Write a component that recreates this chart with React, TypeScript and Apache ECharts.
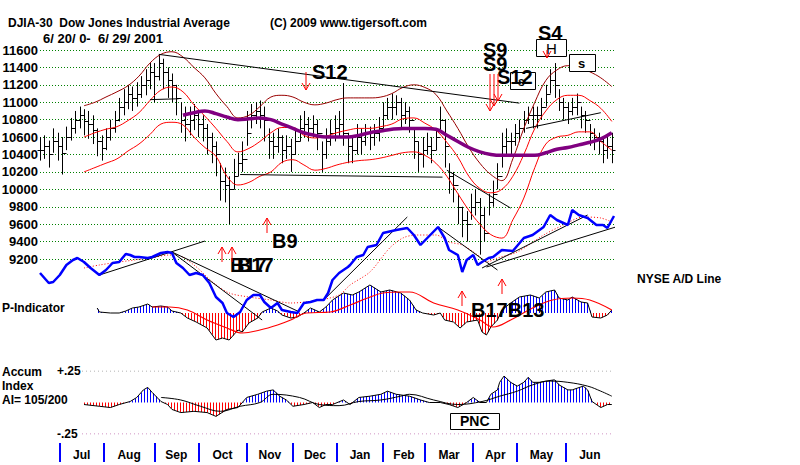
import React, { useEffect, useRef } from "react";
import * as echarts from "echarts";

// ---------- axis / calendar ----------
const monthNames = ["Jul", "Aug", "Sep", "Oct", "Nov", "Dec", "Jan", "Feb", "Mar", "Apr", "May", "Jun"];
const monthStarts = [9, 29, 52, 72, 94, 115, 135, 156, 175, 197, 217, 239]; // trading-day index of 1st day
const lastDay = 260;
const xMax = 261;

// ---------- DJIA bars (every 2nd trading day) ----------
const barClose = [
  10450, 10500, 10400, 10550, 10500, 10420, 10600, 10700, 10800, 10850,
  10780, 10750, 10680, 10550, 10480, 10600, 10700, 10800, 10950, 11000,
  11100, 11050, 11100, 11200, 11250, 11350, 11300, 11450, 11350, 11250,
  11200, 11050, 10800, 10750, 10800, 10850, 10750, 10700, 10600, 10500,
  10400, 10100, 10050, 10000, 10150, 10300, 10350, 10650, 10850, 10900,
  10850, 10800, 10550, 10500, 10600, 10450, 10500, 10400, 10550, 10700,
  10750, 10700, 10750, 10650, 10400, 10550, 10650, 10700, 10750, 10650,
  10500, 10450, 10600, 10550, 10650, 10600, 10650, 10700, 10850, 10950,
  10950, 11000, 10850, 10900, 10800, 10550, 10400, 10450, 10500, 10450,
  10600, 10800, 10500, 10150, 10050, 9800, 9650, 9600, 9800, 9850,
  9700, 9500, 9850, 9950, 10150, 10500, 10550, 10550, 10650, 10700,
  10800, 10850, 10850, 10850, 10950, 11100, 11250, 11200, 11000, 10950,
  10900, 10950, 11000, 10850, 10800, 10650, 10600, 10550, 10450, 10500,
  10450,
];
const barHigh = [
  10600, 10620, 10560, 10700, 10650, 10600, 10720, 10820, 10900, 10950,
  10920, 10900, 10850, 10700, 10620, 10700, 10800, 10900, 11050, 11150,
  11200, 11180, 11230, 11300, 11380, 11450, 11450, 11550, 11500, 11400,
  11330, 11200, 11000, 10950, 10950, 10980, 10900, 10850, 10750, 10650,
  10550, 10300, 10250, 10150, 10350, 10420, 10550, 10900, 10980, 11000,
  11020, 10950, 10700, 10650, 10700, 10620, 10620, 10580, 10700, 10850,
  10900, 10830, 10850, 10800, 10550, 10700, 10800, 10850, 10900, 11220,
  10650, 10600, 10750, 10700, 10750, 10720, 10750, 10830, 11000, 11050,
  11100, 11080, 11050, 11000, 10950, 10700, 10550, 10600, 10650, 10600,
  10700, 10950, 10800, 10300, 10200, 9950, 9800, 9750, 9950, 10000,
  9900, 9800, 9950, 10100, 10300, 10650, 10700, 10650, 10750, 10800,
  10900, 10950, 10950, 10950, 11050, 11200, 11380, 11450, 11150, 11050,
  11000, 11050, 11100, 10950, 10900, 10750, 10700, 10650, 10600, 10600,
  10650,
];
const barLow = [
  10330, 10350, 10250, 10420, 10330, 10170, 10450, 10560, 10640, 10700,
  10620, 10580, 10520, 10380, 10330, 10450, 10560, 10650, 10780, 10850,
  10920, 10900, 10950, 11050, 11080, 11150, 11000, 11250, 11150, 11050,
  11000, 10850, 10650, 10550, 10620, 10680, 10600, 10550, 10400, 10300,
  10150, 9870, 9850, 9600, 10000, 10150, 10200, 10500, 10700, 10750,
  10700, 10550, 10350, 10350, 10420, 10300, 10350, 10200, 10400, 10550,
  10600, 10550, 10600, 10450, 10200, 10350, 10500, 10550, 10600, 10500,
  10300, 10300, 10400, 10400, 10500, 10450, 10500, 10550, 10700, 10800,
  10800, 10850, 10700, 10750, 10650, 10350, 10200, 10250, 10400, 10300,
  10450, 10650, 10250, 9950, 9850, 9600, 9450, 9400, 9650, 9700,
  9250, 9400, 9700, 9800, 10000, 10250, 10400, 10400, 10500, 10550,
  10650, 10750, 10700, 10700, 10800, 10950, 11100, 11050, 10900, 10800,
  10750, 10850, 10850, 10700, 10650, 10500, 10450, 10400, 10300, 10350,
  10300,
];
const barStep = 2;

// ---------- bands and moving average (weekly readings) ----------
const bandDays = [
  20, 25, 30, 35, 40, 45, 50, 55, 60, 65, 70, 75, 80, 85, 90, 95, 100, 105, 110, 115,
  120, 125, 130, 135, 140, 145, 150, 155, 160, 165, 170, 175, 180, 185, 190, 195, 200, 205, 210, 215,
  220, 225, 230, 235, 240, 245, 250, 255, 260,
];
const redUpper = [
  10600, 10650, 10690, 10720, 10790, 10880, 11020, 11140, 11175, 11120, 10970, 10840, 10700, 10550, 10430, 10470, 10550, 10650, 10710, 10710,
  10620, 10590, 10610, 10650, 10680, 10700, 10700, 10720, 10750, 10810, 10820, 10760, 10680, 10540, 10370, 10150, 10010, 9960, 10000, 10150,
  10400, 10700, 10900, 11030, 11080, 11080, 11020, 10930, 10780,
];
const redLower = [
  10200, 10250, 10300, 10350, 10440, 10520, 10630, 10750, 10770, 10740, 10600, 10480, 10380, 10150, 10050, 10080, 10150, 10200, 10310, 10340,
  10280, 10220, 10240, 10280, 10310, 10330, 10340, 10360, 10390, 10420, 10430, 10390, 10300, 10150, 9950, 9760, 9600, 9480, 9440, 9650,
  9900, 10250, 10520, 10600, 10620, 10660, 10660, 10550, 10450,
];
const maroonUpper = [
  10960, 11000, 11060, 11120, 11190, 11300, 11450, 11550, 11580, 11520, 11400, 11280, 11100, 10950, 10820, 10850, 10950, 11060, 11080, 11060,
  11000, 10970, 10990, 11030, 11050, 11050, 11050, 11060, 11100, 11170, 11200, 11170, 11090, 10900, 10700, 10480, 10300, 10170, 10100, 10350,
  10700, 11000, 11250, 11370, 11420, 11400, 11350, 11280, 11180,
];
const maDays = [
  65, 70, 75, 80, 85, 90, 95, 100, 105, 110, 115, 120, 125, 130, 135, 140, 145, 150, 155, 160,
  165, 170, 175, 180, 185, 190, 195, 200, 205, 210, 215, 220, 225, 230, 235, 240, 245, 250, 255, 260,
];
const ma50 = [
  10850, 10880, 10900, 10870, 10830, 10800, 10810, 10820, 10800, 10750, 10700, 10650, 10620, 10600, 10600, 10600, 10620, 10650, 10670, 10690,
  10700, 10700, 10700, 10690, 10620, 10550, 10480, 10430, 10400, 10390, 10390, 10390, 10390, 10420, 10460, 10480, 10510, 10540, 10580, 10650,
];

// ---------- NYSE A/D line (arbitrary units) ----------
const adDays = [
  0, 4, 6, 9, 12, 15, 17, 20, 23, 27, 30, 33, 36, 39, 41, 43, 45, 49, 51, 55,
  58, 60, 62, 65, 68, 71, 74, 77, 80, 83, 85, 88, 91, 94, 97, 100, 102, 105, 108, 110,
  114, 117, 120, 123, 126, 129, 131, 133, 136, 140, 141, 144, 147, 149, 153, 156, 158, 162, 167, 170,
  173, 177, 181, 184, 186, 190, 192, 194, 197, 199, 201, 204, 206, 210, 215, 220, 224, 229, 232, 235,
  240, 242, 245, 249, 253, 256, 258, 261,
];
const adLine = [
  27, 17, 18, 25, 35, 40, 42, 38, 32, 25, 30, 37, 38, 46, 45, 43, 43, 42, 43, 47,
  48, 47, 37, 32, 25, 27, 25, 17, 3, -3, -13, -17, -12, 0, 5, 5, -2, -8, -3, -10,
  -12, -13, -3, -2, 0, 0, 7, 20, 27, 33, 35, 43, 45, 53, 55, 67, 68, 70, 72, 65,
  55, 64, 73, 62, 50, 45, 28, 40, 45, 35, 38, 42, 43, 50, 49, 62, 65, 73, 85, 80,
  75, 90, 85, 82, 75, 75, 72, 84,
];
const adMaDays = [20, 27, 36, 50, 59, 62, 70, 79, 86, 95, 105, 114, 127, 136, 141, 150, 159, 165, 171, 180, 186, 192, 199, 203, 208, 217, 229, 238, 247, 255, 260];
const adMa = [32, 35, 38, 42, 45, 45, 35, 17, 7, 3, 0, -3, 0, 5, 15, 28, 52, 62, 65, 65, 58, 55, 45, 38, 42, 48, 65, 75, 83, 82, 78];

// ---------- P-Indicator ----------
const pDays = [
  26, 27, 32, 36, 39, 42, 45, 49, 51, 55, 58, 60, 64, 67, 71, 76, 80, 83, 86, 90,
  92, 95, 99, 101, 105, 108, 110, 114, 117, 120, 123, 127, 130, 133, 138, 142, 145, 150, 155, 159,
  164, 168, 171, 174, 179, 182, 184, 188, 191, 194, 199, 201, 203, 205, 208, 210, 214, 218, 223, 227,
  230, 234, 236, 240, 242, 246, 249, 251, 255, 258, 260,
];
const pInd = [
  5, 1, 0, 0, 2, 5, 6, 9, 6, 7, 6, 2, 0, -5, -9, -15, -27, -25, -27, -17,
  -19, -10, -5, 1, 5, 2, -2, -5, -4, 0, 5, 1, 6, 13, 20, 18, 21, 28, 21, 23,
  20, 13, 3, 0, -2, 0, -7, -9, -15, -9, -7, -19, -22, -14, -7, 3, 10, 16, 18, 15,
  21, 23, 15, 13, 16, 11, 10, -4, -5, -2, 3,
];
const pMaDays = [51, 59, 67, 76, 85, 92, 100, 108, 114, 121, 132, 141, 149, 156, 164, 168, 179, 190, 200, 206, 214, 224, 233, 242, 250, 260];
const pMa = [6, 6, 3, -7, -15, -20, -17, -12, -7, 0, 1, 8, 15, 20, 21, 21, 10, 3, -7, -14, -7, 5, 13, 15, 13, 3];

// ---------- Accumulation Index ----------
const accDays = [
  20, 27, 32, 36, 41, 44, 47, 49, 51, 55, 58, 60, 64, 70, 76, 80, 85, 90, 94, 99,
  103, 106, 109, 112, 115, 120, 124, 127, 130, 133, 138, 141, 145, 150, 155, 158, 162, 168, 173, 177,
  182, 186, 190, 194, 197, 200, 203, 205, 208, 209, 211, 214, 217, 220, 222, 224, 227, 230, 234, 236,
  240, 242, 247, 249, 251, 255, 258, 260,
];
const accum = [
  -0.016, -0.03, -0.04, -0.016, 0.008, 0.04, 0.1, 0.12, 0.08, 0.008, -0.016, -0.055, -0.08, -0.07, -0.08, -0.11, -0.055, -0.04, 0.04, 0.065,
  0.09, 0.1, 0.05, 0.02, -0.03, -0.016, 0, -0.04, -0.016, -0.016, 0.02, -0.016, 0.04, 0.05, 0.065, 0.09, 0.065, 0.05, 0.02, 0,
  0, -0.016, -0.04, 0, 0.04, 0, 0, 0.065, 0.1, 0.16, 0.21, 0.16, 0.13, 0.16, 0.2, 0.16, 0.16, 0.17, 0.18, 0.14,
  0.1, 0.1, 0.13, 0.1, 0.008, -0.04, -0.016, -0.016,
];
const accMaDays = [55, 64, 73, 82, 91, 100, 106, 118, 127, 136, 145, 155, 164, 168, 179, 190, 201, 209, 217, 224, 232, 240, 249, 255, 260];
const accMa = [0.04, 0.02, -0.03, -0.07, -0.03, 0, 0.065, 0.04, -0.016, -0.025, 0.008, 0.02, 0.05, 0.065, 0.02, -0.016, 0.008, 0.05, 0.09, 0.14, 0.17, 0.16, 0.13, 0.09, 0.05];
const accLevels = [0.25, -0.25];

// ---------- trendlines (day, value) ----------
const priceTrendlines = [
  [[54, 11550], [218, 10990]],
  [[91, 10170], [183, 10140]],
  [[50, 11030], [63, 11040]],
  [[185, 10220], [214, 9785]],
  [[221, 10700], [255, 10880]],
];
const adTrendlines = [
  [[27, 25], [75, 59]],
  [[60, 48], [118, -12]],
  [[60, 48], [101, -20]],
  [[129, 0], [167, 83]],
  [[181, 73], [208, 30]],
  [[201, 32], [249, 85]],
  [[203, 33], [275, 82]],
];

// ---------- helpers ----------
const FONT = '"Liberation Sans", Arial, Helvetica, sans-serif';
const pairs = (xs: number[], ys: number[]) => xs.map((x, k) => [x, ys[k]]);

function txt(text: string, x: number, y: number, size: number, weight = "bold") {
  return {
    type: "text",
    x,
    y,
    z: 100,
    style: {
      text,
      font: `${weight} ${size}px ${FONT}`,
      fill: "#000",
      align: "left",
      verticalAlign: "middle",
      textAlign: "left",
      textVerticalAlign: "middle",
    },
  };
}
function box(x: number, y: number, w: number, h: number) {
  return { type: "rect", z: 99, shape: { x: x + 0.5, y: y + 0.5, width: w, height: h }, style: { fill: "#fff", stroke: "#000", lineWidth: 1 } };
}
function arrow(x: number, yTail: number, yHead: number) {
  const dir = yHead > yTail ? -1 : 1;
  return [
    { type: "line", z: 101, shape: { x1: x, y1: yTail, x2: x, y2: yHead }, style: { stroke: "#ff0000", lineWidth: 1 } },
    {
      type: "polyline",
      z: 101,
      shape: { points: [[x - 4, yHead + dir * 7], [x, yHead], [x + 4, yHead + dir * 7]] },
      style: { stroke: "#ff0000", lineWidth: 1, fill: null },
    },
  ];
}

function histRender(days: number[], vals: number[], pos: string, neg: string, step: number) {
  return (params: any, api: any) => {
    const pts = days.map((d, k) => api.coord([d, vals[k]]));
    const base = api.coord([days[0], 0])[1];
    const children: any[] = [];
    const x0 = Math.ceil(pts[0][0]);
    const xEnd = pts[pts.length - 1][0];
    let seg = 0;
    for (let x = x0; x <= xEnd; x += step) {
      while (seg < pts.length - 2 && pts[seg + 1][0] < x) seg++;
      const a = pts[seg];
      const b = pts[seg + 1];
      const t = b[0] === a[0] ? 0 : (x - a[0]) / (b[0] - a[0]);
      const y = a[1] + (b[1] - a[1]) * t;
      if (Math.abs(y - base) < 0.6) continue;
      children.push({
        type: "line",
        shape: { x1: x + 0.5, y1: base, x2: x + 0.5, y2: y },
        style: { stroke: y < base ? pos : neg, lineWidth: 1 },
      });
    }
    return { type: "group", children };
  };
}

function renderBar(params: any, api: any) {
  const d = api.value(0);
  const o = api.value(1);
  const c = api.value(2);
  const l = api.value(3);
  const h = api.value(4);
  const top = api.coord([d, h]);
  const bot = api.coord([d, l]);
  const po = api.coord([d, o]);
  const pc = api.coord([d, c]);
  const x = Math.round(top[0]) + 0.5;
  const yo = Math.round(po[1]) + 0.5;
  const yc = Math.round(pc[1]) + 0.5;
  const st = { stroke: "#000", lineWidth: 1 };
  return {
    type: "group",
    children: [
      { type: "line", shape: { x1: x, y1: top[1], x2: x, y2: bot[1] }, style: st },
      { type: "line", shape: { x1: x - 3, y1: yo, x2: x, y2: yo }, style: st },
      { type: "line", shape: { x1: x, y1: yc, x2: x + 3, y2: yc }, style: st },
    ],
  };
}

function lineSeries(grid: number, data: any[], color: string, width: number, extra: any = {}) {
  const { lineStyle, ...rest } = extra;
  return {
    type: "line",
    xAxisIndex: grid,
    yAxisIndex: grid,
    data,
    symbol: "none",
    showSymbol: false,
    silent: true,
    lineStyle: { color, width, ...(lineStyle || {}) },
    ...rest,
  };
}

function buildOption() {
  const bars = barClose.map((c, i) => [i * barStep, i > 0 ? barClose[i - 1] : c, c, barLow[i], barHigh[i]]);
  const monthMids = monthStarts.map((s, k) => (s + (k + 1 < monthStarts.length ? monthStarts[k + 1] : lastDay + 1)) / 2);

  const gridBase = { left: 40, width: 574, outerBoundsMode: "none", containLabel: false };
  const hiddenX = (gi: number) => ({ type: "value", gridIndex: gi, min: 0, max: xMax, show: false });
  const hiddenY = (gi: number, min: number, max: number) => ({ type: "value", gridIndex: gi, min, max, show: false, splitLine: { show: false } });

  const series: any[] = [
    // price bars
    {
      type: "custom",
      xAxisIndex: 0,
      yAxisIndex: 0,
      data: bars,
      encode: { x: 0, y: [1, 2, 3, 4] },
      renderItem: renderBar,
      silent: true,
      z: 2,
    },
    lineSeries(0, pairs(bandDays, maroonUpper), "#990000", 1, { smooth: 0.4, z: 3 }),
    lineSeries(0, pairs(bandDays, redUpper), "#ff0000", 1, { smooth: 0.4, z: 3 }),
    lineSeries(0, pairs(bandDays, redLower), "#ff0000", 1, { smooth: 0.4, z: 3 }),
    lineSeries(0, pairs(maDays, ma50), "#800080", 3.5, { smooth: 0.4, z: 4 }),
    ...priceTrendlines.map((seg) => lineSeries(0, seg, "#000000", 1, { z: 3 })),
    // A/D line
    lineSeries(1, pairs(adMaDays, adMa), "#ff0000", 1, { smooth: 0.3, z: 5, lineStyle: { type: [1, 2] } }),
    ...adTrendlines.map((seg) => lineSeries(1, seg, "#000000", 1, { z: 5, clip: false })),
    lineSeries(1, pairs(adDays, adLine), "#0000ff", 2.5, { z: 6 }),
    // P-Indicator
    {
      type: "custom",
      xAxisIndex: 2,
      yAxisIndex: 2,
      data: [[pDays[0], 0]],
      encode: { x: 0, y: 1 },
      renderItem: histRender(pDays, pInd, "#0000ff", "#ff0000", 3),
      silent: true,
      z: 3,
    },
    lineSeries(2, pairs(pDays, pInd), "#000000", 1, { z: 4 }),
    lineSeries(2, pairs(pMaDays, pMa), "#ff0000", 1.2, { smooth: 0.4, z: 4 }),
    // Accumulation index
    ...accLevels.map((lv) =>
      lineSeries(3, [[19.1, lv], [lastDay + 1, lv]], lv > 0 ? "#9a9a9a" : "#c070b0", 1, {
        z: 2,
        lineStyle: { type: [1, 3] },
      })
    ),
    {
      type: "custom",
      xAxisIndex: 3,
      yAxisIndex: 3,
      data: [[accDays[0], 0]],
      encode: { x: 0, y: 1 },
      renderItem: histRender(accDays, accum, "#0000ff", "#ff0000", 3),
      silent: true,
      z: 3,
    },
    lineSeries(3, pairs(accDays, accum), "#000000", 1, { z: 4 }),
    lineSeries(3, pairs(accMaDays, accMa), "#000000", 1, { smooth: 0.4, z: 4 }),
  ];

  const graphics: any[] = [
    txt("DJIA-30  Dow Jones Industrial Average", 8, 23, 12),
    txt("(C) 2009 www.tigersoft.com", 270, 23, 12),
    txt("6/ 20/ 0-  6/ 29/ 2001", 43, 38, 13),
    txt("NYSE A/D Line", 637, 279, 12),
    txt("P-Indicator", 2, 308, 12),
    txt("Accum", 2, 372, 12),
    txt("Index", 2, 386, 12),
    txt("AI= 105/200", 2, 400, 12),
    txt("+.25", 57, 371, 12),
    txt("-.25", 57, 434, 12),
    // signals
    txt("S12", 312, 72, 20),
    ...arrow(306, 72, 90),
    txt("S9", 483, 50, 20),
    txt("S9", 483, 64, 20),
    box(510, 72, 25, 17),
    txt("s", 518, 82, 12),
    txt("S12", 497, 77, 20),
    ...arrow(490, 74, 111),
    ...arrow(494, 74, 106),
    ...arrow(498, 74, 101),
    txt("S4", 538, 33, 20),
    box(536, 39, 30, 17),
    txt("H", 546, 48, 15, "normal"),
    ...arrow(547, 50, 58),
    box(569, 54, 26, 17),
    txt("s", 578, 63, 13),
    txt("B9", 272, 241, 20),
    ...arrow(267, 233, 218),
    txt("B17", 230, 265, 20),
    txt("B17", 237, 265, 20),
    ...arrow(222, 262, 247),
    ...arrow(232, 262, 247),
    txt("B17B13", 471, 310, 20),
    ...arrow(462, 306, 291),
    ...arrow(502, 294, 279),
    box(450, 413, 49, 16),
    txt("PNC", 460, 421, 14),
  ];

  return {
    animation: false,
    backgroundColor: "#ffffff",
    grid: [
      { ...gridBase, top: 50, height: 209 },
      { ...gridBase, top: 200, height: 130 },
      { ...gridBase, top: 270, height: 86 },
      { ...gridBase, top: 371, height: 63 },
      { ...gridBase, top: 442, height: 1 },
    ],
    xAxis: [
      hiddenX(0),
      hiddenX(1),
      hiddenX(2),
      hiddenX(3),
      {
        type: "value",
        gridIndex: 4,
        min: 0,
        max: xMax,
        position: "bottom",
        axisLine: { show: false },
        splitLine: { show: false },
        axisTick: { show: true, customValues: monthStarts, length: 19, inside: false, lineStyle: { color: "#0000ff", width: 2 } },
        axisLabel: {
          show: true,
          customValues: monthMids,
          formatter: (v: number) => {
            const k = monthMids.findIndex((m) => Math.abs(m - v) < 0.01);
            return k >= 0 ? monthNames[k] : "";
          },
          color: "#000",
          fontWeight: "bold",
          fontSize: 12,
          fontFamily: FONT,
          margin: 6,
        },
      },
    ],
    yAxis: [
      {
        type: "value",
        gridIndex: 0,
        min: 9200,
        max: 11600,
        interval: 200,
        axisLine: { show: false },
        axisTick: { show: false },
        axisLabel: {
          color: "#000",
          fontWeight: "bold",
          fontSize: 13,
          fontFamily: FONT,
          margin: 2,
          formatter: (v: number) => String(v),
        },
        splitLine: { show: true, lineStyle: { color: "#008000", width: 1, type: [1, 2] } },
      },
      hiddenY(1, -30, 100),
      hiddenY(2, -43, 43),
      hiddenY(3, -0.25, 0.25),
      hiddenY(4, 0, 1),
    ],
    series,
    graphic: { elements: graphics },
  };
}

export default function App() {
  const ref = useRef<HTMLDivElement>(null);
  useEffect(() => {
    if (!ref.current) return;
    const chart = echarts.init(ref.current, null, { renderer: "svg" });
    chart.setOption(buildOption() as any);
    return () => chart.dispose();
  }, []);
  return (
    <div
      ref={ref}
      style={{ position: "fixed", left: 0, top: 0, width: 800, height: 465, background: "#fff" }}
    />
  );
}
